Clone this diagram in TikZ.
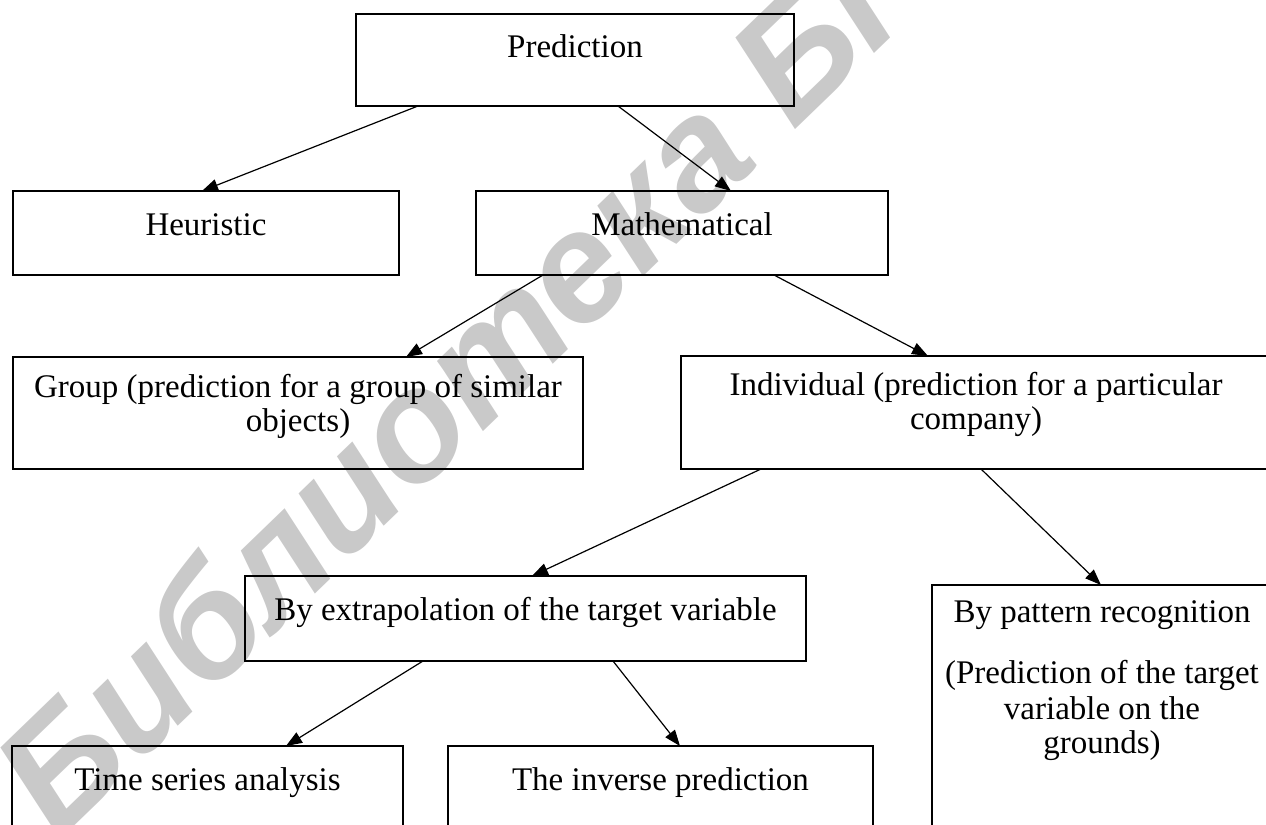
\documentclass[tikz,border=0pt]{standalone}
\usepackage{fontspec}
\setmainfont{Liberation Serif}
\newfontfamily\wmfont{Liberation Sans}
\usetikzlibrary{arrows.meta,calc}
\tikzset{
  box/.style={draw, line width=1.5bp, inner sep=0pt, outer sep=0pt, anchor=north west},
  conn/.style={line width=1.2bp, -{Triangle[length=16bp,width=12bp]}},
  wmark/.style={text=black!21, inner sep=0pt, anchor=base west, rotate=44,
    font=\wmfont\bfseries\itshape\fontsize{156bp}{164bp}\selectfont}
}
\newcommand\bxt[4]{\parbox[c][#2][t]{#1}{\centering\rule{0pt}{#3}#4}}
\begin{document}
\begin{tikzpicture}[x=1bp,y=-1bp,font=\fontsize{33bp}{36bp}\selectfont]
\useasboundingbox (0,0) rectangle (1266,825);
\clip (0,0) rectangle (1266,825);
\node[wmark] (wm) at (58,842) {Библиотека БГУИР};
\node[box] (pred) at (356,14) {\bxt{438bp}{92bp}{43bp}{Prediction}};
\node[box] (heur) at (13,191) {\bxt{386bp}{84bp}{44bp}{Heuristic}};
\node[box] (math) at (476,191) {\bxt{412bp}{84bp}{44bp}{Mathematical}};
\node[box] (group) at (13,357) {\bxt{570bp}{112bp}{40bp}{Group (prediction for a group of similar\\[-2bp] objects)}};
\node[box] (ind) at (681,356) {\bxt{590bp}{113bp}{39bp}{Individual (prediction for a particular\\[-2bp] company)}};
\node[box] (extr) at (245,576) {\bxt{561bp}{85bp}{44bp}{By extrapolation of the target variable}};
\node[box] (patt) at (932,585) {\bxt{340bp}{300bp}{37bp}{By pattern recognition\\[25bp] (Prediction of the target\\ variable on the\\[-2bp] grounds)}};
\node[box] (time) at (12,746) {\bxt{391bp}{120bp}{44bp}{Time series analysis}};
\node[box] (inv) at (448,746) {\bxt{425bp}{120bp}{44bp}{The inverse prediction}};
\draw[conn] ($(pred.south west)+(62,0)$) -- ($(heur.north west)+(189,0)$);
\draw[conn] ($(pred.south west)+(262,0)$) -- ($(math.north west)+(255,0)$);
\draw[conn] ($(math.south west)+(67,0)$) -- ($(group.north west)+(393,0)$);
\draw[conn] ($(math.south west)+(298,0)$) -- ($(ind.north west)+(247,0)$);
\draw[conn] ($(ind.south west)+(80,0)$) -- ($(extr.north west)+(287,0)$);
\draw[conn] ($(ind.south west)+(300,0)$) -- ($(patt.north west)+(169,0)$);
\draw[conn] ($(extr.south west)+(178,0)$) -- ($(time.north west)+(274,0)$);
\draw[conn] ($(extr.south west)+(368,0)$) -- ($(inv.north west)+(232,0)$);
\end{tikzpicture}
\end{document}
